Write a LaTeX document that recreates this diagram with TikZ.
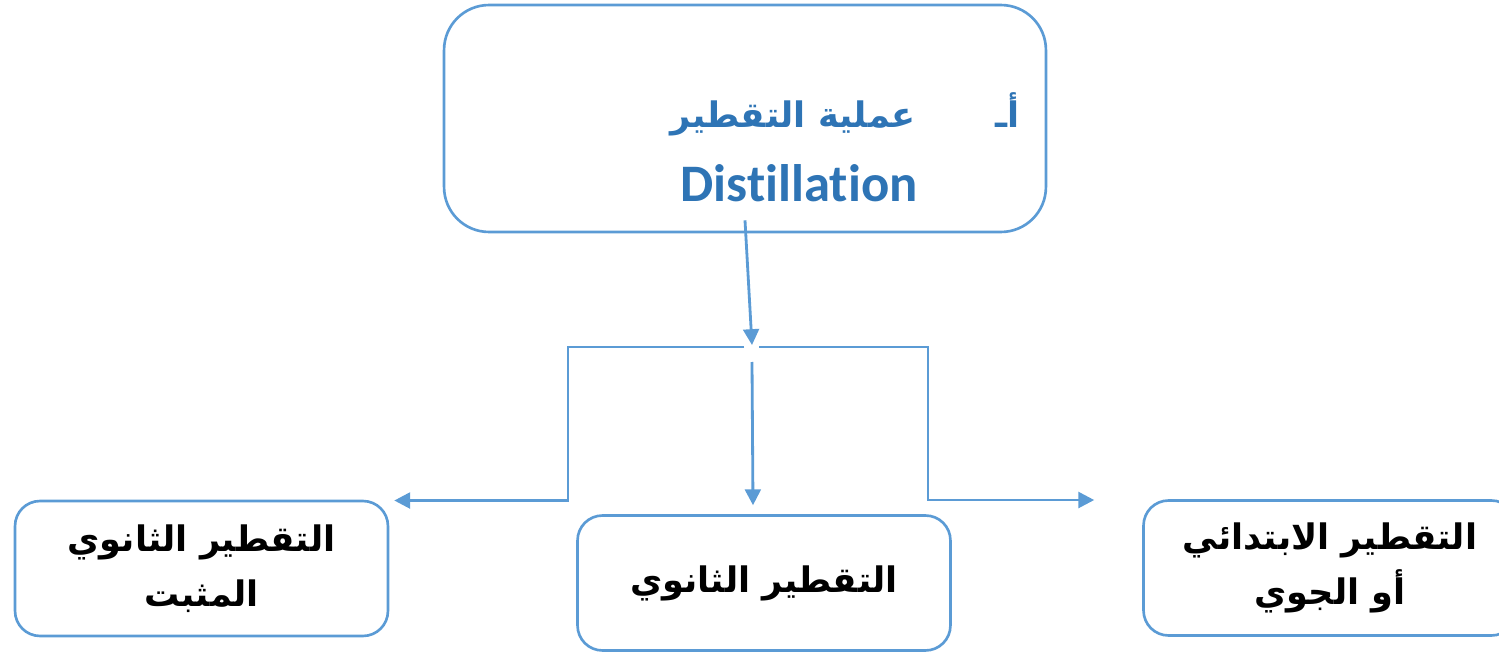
\documentclass[tikz,border=0pt]{standalone}
\usepackage{fontspec}
\setmainfont{Carlito}[Ligatures=NoCommon]
\newfontfamily\arabicfont[Script=Arabic]{DejaVu Sans}
\TeXXeTstate=1
\usepackage{xcolor}
\usetikzlibrary{arrows.meta}
\usetikzlibrary{positioning, calc}

\definecolor{linkblue}{HTML}{5B9BD5}
\definecolor{titleblue}{HTML}{2E74B5}

\tikzset{
    roundbox/.style={draw=linkblue, line width=1.5pt, rounded corners=0.5cm,
        minimum width=7.46cm, minimum height=2.7cm, align=center,
        font=\arabicfont\bfseries\fontsize{20}{31}\selectfont},
    titletext/.style={anchor=base east, inner sep=0pt, text=titleblue},
    link/.style={draw=linkblue, line width=1.6pt},
    tip/.style={-{Triangle[length=9pt,width=9pt]}}
}

\begin{document}
\begin{tikzpicture}[x=0.02cm, y=-0.02cm]
    \useasboundingbox (0,0) rectangle (1499,652);
    \clip (0,0) rectangle (1499,652);

    \node[draw=linkblue, line width=1.5pt, rounded corners=0.9cm,
        minimum width=12.04cm, minimum height=4.54cm] (distill) at (745,118.5) {};
    \node[titletext, font=\arabicfont\bfseries\fontsize{20}{24}\selectfont] (marker) at (1020,128) {\beginR أـ\endR};
    \node[titletext, font=\arabicfont\bfseries\fontsize{20}{24}\selectfont] (title) at (916,128) {\beginR عملية التقطير\endR};
    \node[titletext, font=\bfseries\fontsize{30}{34}\selectfont] (english) at (918,202) {Distillation};

    \node[roundbox] (fixed) at (201.5,568.5) {\beginR التقطير الثانوي\endR\\ \beginR المثبت\endR};
    \node[roundbox] (second) at (764,583) {\beginR التقطير الثانوي\endR};
    \node[roundbox] (primary) at (1330,568) {\beginR التقطير الابتدائي\endR\\ \beginR أو الجوي\endR};

    \coordinate (hubL) at (744,347);
    \coordinate (hubR) at (759,347);
    \coordinate (cornerL) at (568,347);
    \coordinate (cornerR) at (928,347);

    \draw[link, tip] ([yshift=0.26cm]distill.south) -- (752,345);
    \draw[link, tip] (hubL) -- (cornerL) |- ([xshift=0.1cm, yshift=1.36cm]fixed.east);
    \draw[link, tip] (hubR) -- (cornerR) |- ([xshift=-0.96cm, yshift=1.36cm]primary.west);
    \draw[link, tip] (752,362) -- ([yshift=0.18cm, xshift=-0.22cm]second.north);
\end{tikzpicture}
\end{document}
